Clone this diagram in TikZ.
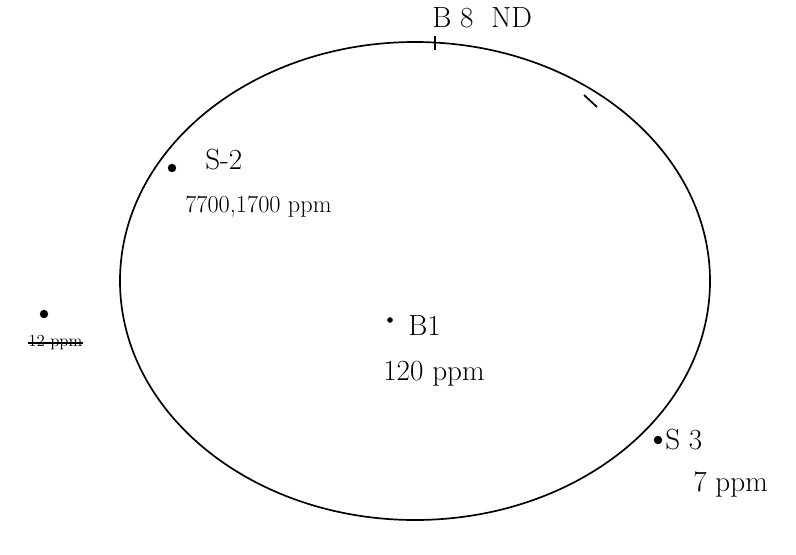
\documentclass[tikz,border=0pt]{standalone}
\usepackage{tikz}
\usetikzlibrary{calc}

\tikzset{
  sample/.style={circle, fill=black, inner sep=0pt, minimum size=6pt},
  lbl/.style={font=\huge, inner sep=0pt}
}

\begin{document}
\begin{tikzpicture}[x=0.025cm, y=-0.025cm]
            \useasboundingbox (0,0) rectangle (796,554);
            % boundary
            \draw[line width=1.2pt] (415,281) ellipse (295 and 239);
            \draw[line width=1.2pt] (584,95) -- (597,107);
            % wells
            \node[sample] (s2) at (172,168) {};
            \node[lbl, right] (s2name) at (205,160) {S-2};
            \node[lbl, right, font=\LARGE] (s2val) at (185,207) {7700,1700 ppm};
            \node[sample, minimum size=4pt] (b1) at (390,320) {};
            \node[lbl, right] (b1name) at (408,326) {B1};
            \node[lbl, right] (b1val) at (383,374) {120 ppm};
            \draw[line width=2pt] (435,36) -- (435,50);
            \coordinate (b8) at (435,42);
            \node[lbl, right] (b8name) at (432,18) {B 8 \ ND};
            \node[sample] (s3) at (658,440) {};
            \node[lbl, right] (s3name) at (665,440) {S 3};
            \node[lbl, right] (s3val) at (693,484) {7 ppm};
            \node[sample] (out) at (44,314) {};
            \node[lbl, right, font=\large] (outval) at (28,343) {12 ppm};
            \draw[line width=2pt] (outval.west) -- (outval.east);
        \end{tikzpicture}
\end{document}
